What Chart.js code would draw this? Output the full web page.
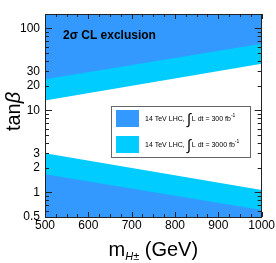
<!DOCTYPE html>
<html>
<head>
<meta charset="utf-8">
<script src="https://cdn.jsdelivr.net/npm/chart.js@4/dist/chart.umd.min.js"></script>
<style>
  html, body { margin: 0; padding: 0; background: #fff; }
  #wrap { width: 276px; height: 263px; }
</style>
</head>
<body>
<div id="wrap"><canvas id="chart" width="276" height="263"></canvas></div>
<script>
/* Data */
var massPoints = [500, 1000];
var upper300 = [24, 65];
var upper3000 = [13.2, 37];
var lower300 = [1.66, 0.61];
var lower3000 = [3.0, 1.07];
var xTickValues = [500, 600, 700, 800, 900, 1000];
var yTickValues = [0.5, 1, 2, 3, 10, 20, 30, 100];
var legendLabels = ['300', '3000'];

var darkBlue = '#3399ff';
var lightBlue = '#00ccff';
var FONT = "'Liberation Sans', Arial, sans-serif";

function toPoints(ys) {
    return massPoints.map(function(x, i) { return { x: x, y: ys[i] }; });
}

function band(data, color, fill, order) {
    return {
        data: toPoints(data),
        backgroundColor: color,
        borderColor: color,
        borderWidth: 0,
        pointRadius: 0,
        fill: fill,
        order: order
    };
}

/* Frame, inward ticks, titles and legend */
var decorations = {
    id: 'decorations',
    afterDatasetsDraw: function(chart) {
        var ctx = chart.ctx;
        var a = chart.chartArea;
        var xs = chart.scales.x;
        var ys = chart.scales.y;
        ctx.save();

        ctx.strokeStyle = '#222';
        ctx.lineWidth = 1;
        ctx.beginPath();
        // x ticks every 25, major every 100
        for (var v = 500; v <= 1000; v += 25) {
            var px = Math.round(xs.getPixelForValue(v)) + 0.5;
            var len = (v % 100 === 0) ? 5 : 3;
            ctx.moveTo(px, a.bottom); ctx.lineTo(px, a.bottom - len);
            ctx.moveTo(px, a.top); ctx.lineTo(px, a.top + len);
        }
        // log y ticks
        for (var d = 0.1; d <= 100; d *= 10) {
            for (var m = 1; m <= 9; m++) {
                var val = m * d;
                if (val < ys.min - 1e-9 || val > ys.max) continue;
                var py = Math.round(ys.getPixelForValue(val)) + 0.5;
                var l = (m === 1) ? 7 : 4;
                ctx.moveTo(a.left, py); ctx.lineTo(a.left + l, py);
                ctx.moveTo(a.right, py); ctx.lineTo(a.right - l, py);
            }
        }
        ctx.stroke();
        ctx.strokeRect(Math.round(a.left) + 0.5, Math.round(a.top) + 0.5,
                       Math.round(a.right - a.left) - 1, Math.round(a.bottom - a.top));

        // in-plot label
        ctx.fillStyle = '#000';
        ctx.font = 'bold 12px ' + FONT;
        ctx.textBaseline = 'alphabetic';
        ctx.textAlign = 'left';
        ctx.fillText('2\u03c3 CL exclusion', a.left + 18, a.top + 25);

        // legend box
        var bx = a.left + 66, by = a.top + 92, bw = 139, bh = 51;
        ctx.fillStyle = '#fff';
        ctx.fillRect(bx, by, bw, bh);
        ctx.strokeStyle = '#666';
        ctx.strokeRect(bx + 0.5, by + 0.5, bw, bh);
        var colors = [darkBlue, lightBlue];
        for (var i = 0; i < 2; i++) {
            var ry = by + 4 + i * 26;
            ctx.fillStyle = colors[i];
            ctx.fillRect(bx + 5, ry, 23, 17);
            var ty = ry + 11;
            var tx = bx + 34;
            ctx.fillStyle = '#000';
            ctx.font = '7px ' + FONT;
            ctx.fillText('14 TeV LHC,', tx, ty);
            tx += ctx.measureText('14 TeV LHC,').width + 2;
            ctx.font = '15px ' + FONT;
            ctx.fillText('\u222b', tx, ty + 3);
            tx += ctx.measureText('\u222b').width + 1;
            ctx.font = '7px ' + FONT;
            var s = 'L dt = ' + legendLabels[i] + ' fb';
            ctx.fillText(s, tx, ty);
            tx += ctx.measureText(s).width;
            ctx.font = '5px ' + FONT;
            ctx.fillText('-1', tx, ty - 4);
        }

        // x title with subscript
        ctx.fillStyle = '#000';
        var cx = (a.left + a.right) / 2;
        var base = 256;
        ctx.font = '20px ' + FONT;
        var w1 = ctx.measureText('m').width;
        var w3 = ctx.measureText(' (GeV)').width;
        ctx.font = 'italic 11px ' + FONT;
        var w2 = ctx.measureText('H\u00b1').width;
        var x0 = cx - (w1 + w2 + w3) / 2;
        ctx.font = '20px ' + FONT;
        ctx.fillText('m', x0, base);
        ctx.font = 'italic 11px ' + FONT;
        ctx.fillText('H\u00b1', x0 + w1, base + 4);
        ctx.font = '20px ' + FONT;
        ctx.fillText(' (GeV)', x0 + w1 + w2, base);

        // y title
        ctx.translate(20, (a.top + a.bottom) / 2 - 4);
        ctx.rotate(-Math.PI / 2);
        ctx.font = '20px ' + FONT;
        var wt = ctx.measureText('tan').width;
        ctx.font = 'italic 20px ' + FONT;
        var wb = ctx.measureText('\u03b2').width;
        ctx.font = '20px ' + FONT;
        ctx.fillText('tan', -(wt + wb) / 2, 0);
        ctx.font = 'italic 20px ' + FONT;
        ctx.fillText('\u03b2', -(wt + wb) / 2 + wt, 0);
        ctx.restore();
    }
};

new Chart(document.getElementById('chart').getContext('2d'), {
    type: 'line',
    data: {
        datasets: [
            band(upper300, darkBlue, 'end', 0),
            band(upper3000, lightBlue, 'end', 1),
            band(lower300, darkBlue, 'start', 0),
            band(lower3000, lightBlue, 'start', 1)
        ]
    },
    options: {
        responsive: false,
        animation: false,
        layout: { padding: { left: 0, top: 14, right: 13, bottom: 0 } },
        plugins: {
            legend: { display: false },
            tooltip: { enabled: false },
            filler: { propagate: false }
        },
        scales: {
            x: {
                type: 'linear',
                min: 500,
                max: 1000,
                afterBuildTicks: function(scale) {
                    scale.ticks = xTickValues.map(function(v) { return { value: v }; });
                },
                afterFit: function(scale) { scale.height = 46; },
                grid: { display: false, drawTicks: false },
                border: { display: false },
                ticks: {
                    padding: 1,
                    color: '#000',
                    font: { family: FONT, size: 12 },
                    maxRotation: 0,
                    autoSkip: false,
                    callback: function(v) { return String(v); }
                }
            },
            y: {
                type: 'logarithmic',
                min: 0.5,
                max: 150,
                afterBuildTicks: function(scale) {
                    scale.ticks = yTickValues.map(function(v) { return { value: v }; });
                },
                afterFit: function(scale) { scale.width = 45; },
                grid: { display: false, drawTicks: false },
                border: { display: false },
                ticks: {
                    padding: 5,
                    color: '#000',
                    font: { family: FONT, size: 12 },
                    autoSkip: false,
                    callback: function(v) { return String(v); }
                }
            }
        }
    },
    plugins: [decorations]
});
</script>
</body>
</html>
